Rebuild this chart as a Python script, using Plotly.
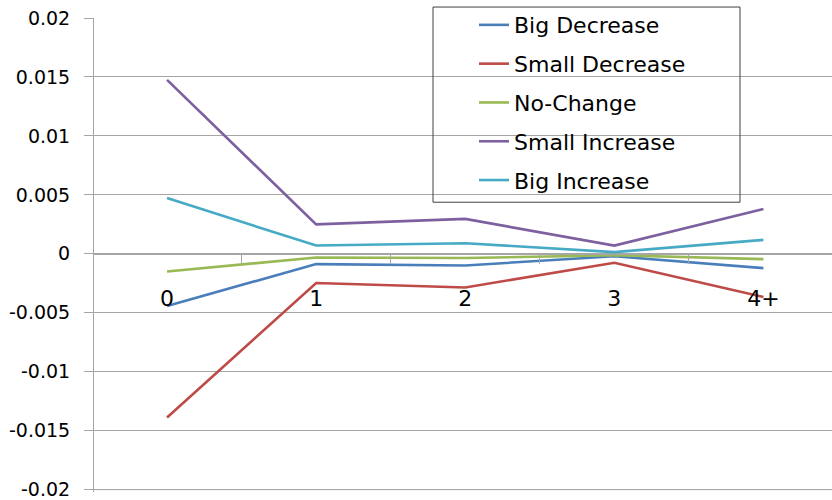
import plotly.graph_objects as go

# Categories on the horizontal axis
categories = ["0", "1", "2", "3", "4+"]

# Series values per category
big_decrease = [-0.00442, -0.00087, -0.00099, -0.00020, -0.00121]
small_decrease = [-0.01388, -0.00248, -0.00285, -0.00076, -0.00366]
no_change = [-0.00150, -0.00031, -0.00036, -0.00012, -0.00045]
small_increase = [0.01475, 0.00250, 0.00296, 0.00070, 0.00380]
big_increase = [0.00473, 0.00070, 0.00090, 0.00014, 0.00118]

series_names = ["Big Decrease", "Small Decrease", "No-Change", "Small Increase", "Big Increase"]
series_values = [big_decrease, small_decrease, no_change, small_increase, big_increase]
series_colors = ["#4A7EBB", "#BE4B48", "#98B954", "#7D60A0", "#46AAC5"]

# Value axis ticks and range (a hair below -0.02 so its gridline is kept)
y_tick_values = [0.02, 0.015, 0.01, 0.005, 0, -0.005, -0.01, -0.015, -0.02]
y_tick_labels = ["0.02", "0.015", "0.01", "0.005", "0", "-0.005", "-0.01", "-0.015", "-0.02"]
y_range = [-0.0202, 0.02]

W, H = 832, 500
ML, MR, MT, MB = 94, 0, 18, 6
PW, PH = W - ML - MR, H - MT - MB

def px_x(x):
    return (x - ML) / PW

def px_y(y):
    return (H - MB - y) / PH

# x-axis sits on the zero line
zero_pos = (0 - y_range[0]) / (y_range[1] - y_range[0])

FONT = "DejaVu Sans"
GRID = "#A6A6A6"

fig = go.Figure()
for i, (name, vals, col) in enumerate(zip(series_names, series_values, series_colors)):
    fig.add_trace(go.Scatter(
        x=categories, y=vals, name=name, mode="lines",
        line=dict(color=col, width=2.6),
        legendgroup=f"g{i}",
    ))

# Lowest gridline, drawn explicitly at the bottom tick value
fig.add_shape(
    type="line", xref="paper", yref="y",
    x0=0, x1=1, y0=y_tick_values[-1], y1=y_tick_values[-1],
    line=dict(color=GRID, width=1), layer="above",
)

# Legend frame
fig.add_shape(
    type="rect", xref="paper", yref="paper",
    x0=px_x(433), x1=px_x(740), y0=px_y(203), y1=px_y(7),
    line=dict(color="#404040", width=1), fillcolor="rgba(0,0,0,0)",
    layer="above",
)

fig.update_layout(
    width=W, height=H,
    margin=dict(l=ML, r=MR, t=MT, b=MB, pad=0),
    paper_bgcolor="white", plot_bgcolor="white",
    font=dict(family=FONT, color="#000000"),
    showlegend=True,
    legend=dict(
        x=px_x(474), y=px_y(4), xanchor="left", yanchor="top",
        bgcolor="rgba(0,0,0,0)", borderwidth=0,
        font=dict(family=FONT, size=22, color="#000000"),
        tracegroupgap=7.2,
        itemwidth=30,
    ),
    xaxis=dict(
        type="category",
        range=[-0.49, 4.46],
        anchor="free", position=zero_pos,
        showgrid=False, zeroline=False,
        showline=True, linecolor=GRID, linewidth=1,
        ticks="outside", ticklen=9, tickcolor=GRID, tickwidth=1,
        tickson="boundaries",
        tickfont=dict(family=FONT, size=22, color="#000000"),
        ticklabelstandoff=25,
    ),
    yaxis=dict(
        range=y_range,
        tickvals=y_tick_values, ticktext=y_tick_labels,
        showgrid=True, gridcolor=GRID, gridwidth=1,
        zeroline=False,
        showline=True, linecolor=GRID, linewidth=1,
        ticks="outside", ticklen=9, tickcolor=GRID, tickwidth=1,
        tickfont=dict(family=FONT, size=19, color="#000000"),
        ticklabelstandoff=10,
        ticklabeloverflow="allow",
    ),
)

fig.write_html("out.html")
